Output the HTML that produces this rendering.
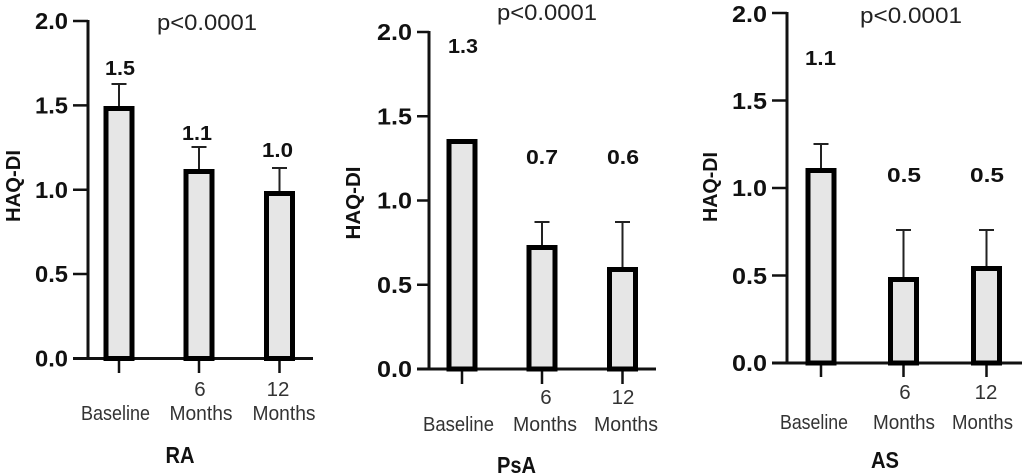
<!DOCTYPE html>
<html><head><meta charset="utf-8"><style>
html,body{margin:0;padding:0;background:#fff;}
svg{display:block;}
.tl{font-family:"Liberation Sans",Arial,sans-serif;font-weight:bold;font-size:23.5px;fill:#111;text-anchor:end;}
.vl{font-family:"Liberation Sans",Arial,sans-serif;font-weight:bold;font-size:20.5px;fill:#111;}
.cl{font-family:"Liberation Sans",Arial,sans-serif;font-size:20.5px;fill:#333;text-anchor:middle;}
.pv{font-family:"Liberation Sans",Arial,sans-serif;font-size:22px;fill:#222;}
.yl{font-family:"Liberation Sans",Arial,sans-serif;font-weight:bold;font-size:20px;fill:#111;text-anchor:middle;}
.gl{font-family:"Liberation Sans",Arial,sans-serif;font-weight:bold;font-size:23px;fill:#111;text-anchor:middle;}
.ax{stroke:#111;stroke-width:3;fill:none;}
.tk{stroke:#111;stroke-width:2.5;fill:none;}
.eb{stroke:#222;stroke-width:2;fill:none;}
.bar{fill:#e6e6e6;stroke:#000;stroke-width:5;}
</style></head><body>
<svg width="1024" height="476" viewBox="0 0 1024 476" xmlns="http://www.w3.org/2000/svg">
<rect width="1024" height="476" fill="#fff"/>

<!-- Panel 1 RA -->
<g>
<text class="yl" transform="translate(20,186) rotate(-90)" textLength="72" lengthAdjust="spacingAndGlyphs">HAQ-DI</text>
<text class="pv" x="157" y="30" textLength="100" lengthAdjust="spacingAndGlyphs">p&lt;0.0001</text>
<text class="tl" x="68" y="29" textLength="33" lengthAdjust="spacingAndGlyphs">2.0</text>
<text class="tl" x="68" y="113.5" textLength="33" lengthAdjust="spacingAndGlyphs">1.5</text>
<text class="tl" x="68" y="198" textLength="33" lengthAdjust="spacingAndGlyphs">1.0</text>
<text class="tl" x="68" y="282" textLength="33" lengthAdjust="spacingAndGlyphs">0.5</text>
<text class="tl" x="68" y="366.5" textLength="33" lengthAdjust="spacingAndGlyphs">0.0</text>
<path class="tk" d="M73 21H88M73 105.4H88M73 189.75H88M73 274H88"/>
<path class="ax" d="M88 20V358.5M73 358.5H313"/>
<path class="tk" d="M119 358.5V373M199 358.5V373M279.5 358.5V373"/>
<path class="eb" d="M119 84V108M111.5 84H126.5M199 147V171M191.5 147H206.5M279.5 168V192M272 168H287"/>
<rect class="bar" x="106" y="108.5" width="26" height="250"/>
<rect class="bar" x="186" y="171.5" width="26" height="187"/>
<rect class="bar" x="266.5" y="193.5" width="26" height="165"/>
<text class="vl" x="105" y="75" textLength="30" lengthAdjust="spacingAndGlyphs">1.5</text>
<text class="vl" x="182" y="140" textLength="30" lengthAdjust="spacingAndGlyphs">1.1</text>
<text class="vl" x="262" y="157" textLength="31" lengthAdjust="spacingAndGlyphs">1.0</text>
<text class="cl" x="200" y="396">6</text>
<text class="cl" x="278" y="396">12</text>
<text class="cl" x="115.5" y="420" textLength="69" lengthAdjust="spacingAndGlyphs">Baseline</text>
<text class="cl" x="201" y="420" textLength="63" lengthAdjust="spacingAndGlyphs">Months</text>
<text class="cl" x="284" y="420" textLength="63" lengthAdjust="spacingAndGlyphs">Months</text>
<text class="gl" x="180" y="463" textLength="29" lengthAdjust="spacingAndGlyphs">RA</text>
</g>

<!-- Panel 2 PsA -->
<g>
<text class="yl" transform="translate(360,203) rotate(-90)" textLength="73" lengthAdjust="spacingAndGlyphs">HAQ-DI</text>
<text class="pv" x="497" y="20" textLength="100" lengthAdjust="spacingAndGlyphs">p&lt;0.0001</text>
<text class="tl" x="412" y="40" textLength="35" lengthAdjust="spacingAndGlyphs">2.0</text>
<text class="tl" x="412" y="124.5" textLength="35" lengthAdjust="spacingAndGlyphs">1.5</text>
<text class="tl" x="412" y="208.5" textLength="35" lengthAdjust="spacingAndGlyphs">1.0</text>
<text class="tl" x="412" y="293" textLength="35" lengthAdjust="spacingAndGlyphs">0.5</text>
<text class="tl" x="412" y="377" textLength="35" lengthAdjust="spacingAndGlyphs">0.0</text>
<path class="tk" d="M417 32H429M417 116.25H429M417 200.5H429M417 284.75H429"/>
<path class="ax" d="M429 31V369M417 369H656"/>
<path class="tk" d="M462 369V384M542 369V384M622.5 369V384"/>
<path class="eb" d="M542 222V247M534.5 222H549.5M622.5 222V269M615 222H630"/>
<rect class="bar" x="449" y="141.5" width="26" height="227.5"/>
<rect class="bar" x="529" y="247.5" width="26" height="121.5"/>
<rect class="bar" x="609.5" y="269.5" width="26" height="99.5"/>
<text class="vl" x="448" y="53" textLength="30" lengthAdjust="spacingAndGlyphs">1.3</text>
<text class="vl" x="526" y="164" textLength="32" lengthAdjust="spacingAndGlyphs">0.7</text>
<text class="vl" x="607" y="164" textLength="32" lengthAdjust="spacingAndGlyphs">0.6</text>
<text class="cl" x="546" y="404">6</text>
<text class="cl" x="623" y="404">12</text>
<text class="cl" x="458.5" y="431" textLength="71" lengthAdjust="spacingAndGlyphs">Baseline</text>
<text class="cl" x="545" y="431" textLength="64" lengthAdjust="spacingAndGlyphs">Months</text>
<text class="cl" x="626" y="431" textLength="64" lengthAdjust="spacingAndGlyphs">Months</text>
<text class="gl" x="516.5" y="473" textLength="39" lengthAdjust="spacingAndGlyphs">PsA</text>
</g>

<!-- Panel 3 AS -->
<g>
<text class="yl" transform="translate(717,187) rotate(-90)" textLength="70" lengthAdjust="spacingAndGlyphs">HAQ-DI</text>
<text class="pv" x="860" y="23" textLength="102" lengthAdjust="spacingAndGlyphs">p&lt;0.0001</text>
<text class="tl" x="767" y="22" textLength="35" lengthAdjust="spacingAndGlyphs">2.0</text>
<text class="tl" x="767" y="109" textLength="35" lengthAdjust="spacingAndGlyphs">1.5</text>
<text class="tl" x="767" y="196" textLength="35" lengthAdjust="spacingAndGlyphs">1.0</text>
<text class="tl" x="767" y="284" textLength="35" lengthAdjust="spacingAndGlyphs">0.5</text>
<text class="tl" x="767" y="371" textLength="35" lengthAdjust="spacingAndGlyphs">0.0</text>
<path class="tk" d="M772 13H787M772 100.5H787M772 188H787M772 275.5H787"/>
<path class="ax" d="M787 12V363M772 363H1022"/>
<path class="tk" d="M821 363V377M903.5 363V377M986.5 363V377"/>
<path class="eb" d="M821 144V170M813.5 144H828.5M903.5 230V279M896 230H911M986.5 230V268M979 230H994"/>
<rect class="bar" x="808" y="170.5" width="26" height="192.5"/>
<rect class="bar" x="890.5" y="279.5" width="26" height="83.5"/>
<rect class="bar" x="973.5" y="268.5" width="26" height="94.5"/>
<text class="vl" x="805" y="65" textLength="31" lengthAdjust="spacingAndGlyphs">1.1</text>
<text class="vl" x="887" y="182" textLength="34" lengthAdjust="spacingAndGlyphs">0.5</text>
<text class="vl" x="970" y="182" textLength="34" lengthAdjust="spacingAndGlyphs">0.5</text>
<text class="cl" x="905" y="399">6</text>
<text class="cl" x="986" y="399">12</text>
<text class="cl" x="814" y="429" textLength="68" lengthAdjust="spacingAndGlyphs">Baseline</text>
<text class="cl" x="904" y="429" textLength="62" lengthAdjust="spacingAndGlyphs">Months</text>
<text class="cl" x="982.5" y="429" textLength="61" lengthAdjust="spacingAndGlyphs">Months</text>
<text class="gl" x="885" y="468" textLength="28" lengthAdjust="spacingAndGlyphs">AS</text>
</g>
</svg>
</body></html>
